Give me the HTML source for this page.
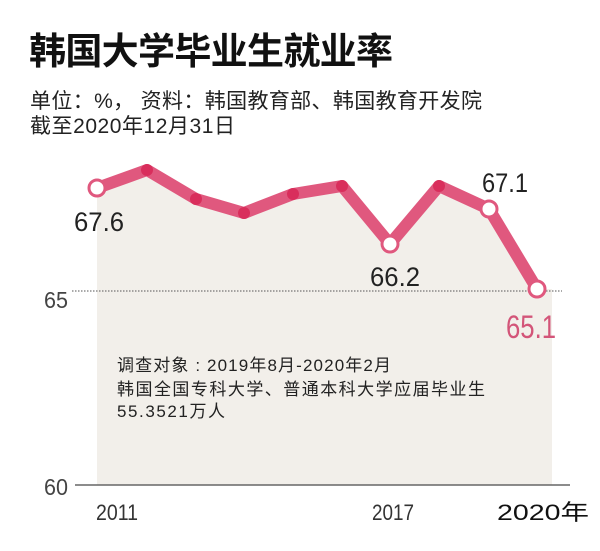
<!DOCTYPE html>
<html><head><meta charset="utf-8"><style>
html,body{margin:0;padding:0;background:#fff;}
svg{display:block}
</style></head><body>
<svg width="600" height="551" viewBox="0 0 600 551" xmlns="http://www.w3.org/2000/svg" font-family="'Liberation Sans','Noto Sans CJK SC',sans-serif">
<text x="29" y="64" font-size="37" font-weight="bold" fill="#111" font-family="'Noto Sans CJK SC',sans-serif" textLength="364">韩国大学毕业生就业率</text>
<text x="30" y="108" font-size="21" fill="#222" textLength="452">单位：%， 资料：韩国教育部、韩国教育开发院</text>
<text x="30" y="133" font-size="21" fill="#222" textLength="205">截至2020年12月31日</text>
<polygon points="97,188 147,170 196,199 244,213 293,194 342,186 390,244 439,186 489,209 537,289 552,289 552,485 97,485" fill="#f2efea"/>
<line x1="72" y1="291" x2="562" y2="291" stroke="#555" stroke-width="1" stroke-dasharray="1.5,1.5"/>
<line x1="75" y1="485" x2="570" y2="485" stroke="#666" stroke-width="1.5"/>
<polyline points="97,188 147,170 196,199 244,213 293,194 342,186 390,244 439,186 489,209 537,289" fill="none" stroke="#e0587e" stroke-width="12" stroke-linejoin="round" stroke-linecap="round"/>
<g fill="#d92e5c">
<circle cx="147" cy="170" r="6"/><circle cx="196" cy="199" r="6"/><circle cx="244" cy="213" r="6"/><circle cx="293" cy="194" r="6"/><circle cx="342" cy="186" r="6"/><circle cx="439" cy="186" r="6"/>
</g>
<g fill="#fff" stroke="#e0587e" stroke-width="3">
<circle cx="97" cy="188" r="8"/><circle cx="390" cy="244" r="8"/><circle cx="489" cy="209" r="8"/><circle cx="537" cy="289" r="8"/>
</g>
<g font-size="27" fill="#222">
<text x="74" y="231" textLength="50" lengthAdjust="spacingAndGlyphs">67.6</text>
<text x="482" y="192" textLength="46" lengthAdjust="spacingAndGlyphs">67.1</text>
<text x="370" y="286" textLength="50" lengthAdjust="spacingAndGlyphs">66.2</text>
</g>
<text x="506" y="338" font-size="32" fill="#d35579" textLength="50" lengthAdjust="spacingAndGlyphs">65.1</text>
<text x="44" y="308" font-size="23" fill="#444" textLength="24" lengthAdjust="spacingAndGlyphs">65</text>
<text x="44" y="495" font-size="23" fill="#444" textLength="24" lengthAdjust="spacingAndGlyphs">60</text>
<g font-size="17" fill="#222">
<text x="117" y="371" textLength="274">调查对象 : 2019年8月-2020年2月</text>
<text x="117" y="395" textLength="368">韩国全国专科大学、普通本科大学应届毕业生</text>
<text x="117" y="417" textLength="108">55.3521万人</text>
</g>
<g font-size="22" fill="#333">
<text x="96" y="520" textLength="42" lengthAdjust="spacingAndGlyphs">2011</text>
<text x="372" y="520" textLength="42" lengthAdjust="spacingAndGlyphs">2017</text>
<text x="497" y="520" fill="#111" textLength="92" lengthAdjust="spacingAndGlyphs">2020年</text>
</g>
</svg>
</body></html>
